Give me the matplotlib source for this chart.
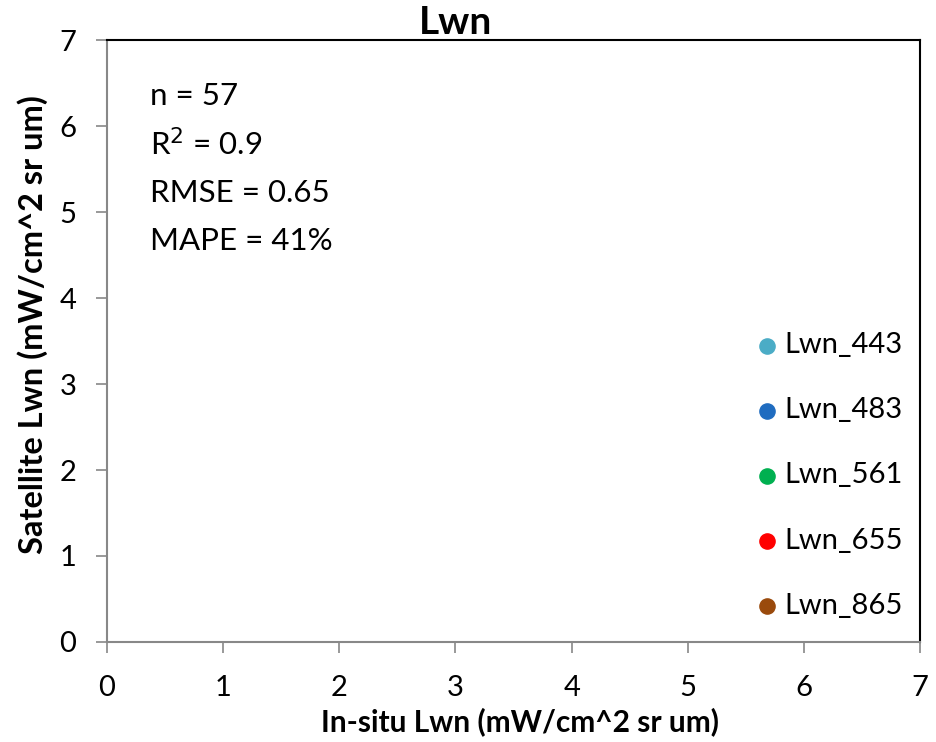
import matplotlib
matplotlib.use("Agg")
import matplotlib.pyplot as plt

plt.rcParams['font.family'] = ['Lato', 'DejaVu Sans']

# Data (the reference chart shows no plotted points)
bands = ["Lwn_443", "Lwn_483", "Lwn_561", "Lwn_655", "Lwn_865"]
colors = ["#4BACC6", "#1F6CC0", "#00B050", "#FF0000", "#9A4A0C"]
insitu_443, sat_443 = [], []
insitu_483, sat_483 = [], []
insitu_561, sat_561 = [], []
insitu_655, sat_655 = [], []
insitu_865, sat_865 = [], []
series = [(insitu_443, sat_443), (insitu_483, sat_483), (insitu_561, sat_561),
          (insitu_655, sat_655), (insitu_865, sat_865)]
stats_lines = ["n = 57", "R$^2$ = 0.9", "RMSE = 0.65", "MAPE = 41%"]
ticks = [0, 1, 2, 3, 4, 5, 6, 7]

fig = plt.figure(figsize=(9.36, 7.42), dpi=100)
ax = fig.add_axes([0.1143, 0.1348, 0.8687, 0.8112])

for (x, y), c, lab in zip(series, colors, bands):
    ax.scatter(x, y, color=c, s=120, label=lab)

ax.set_xlim(0, 7)
ax.set_ylim(0, 7)
ax.set_xticks(ticks)
ax.set_yticks(ticks)
ax.tick_params(axis='both', labelsize=21, length=8, width=1.2, color='#888888')
ax.tick_params(axis='x', pad=16)
ax.tick_params(axis='y', pad=14)

for s in ['left', 'bottom']:
    ax.spines[s].set_color('#888888')
    ax.spines[s].set_linewidth(1.5)
for s in ['top', 'right']:
    ax.spines[s].set_color('black')
    ax.spines[s].set_linewidth(1.5)

fig.text(520 / 936, 1 - 722 / 742, "In-situ Lwn (mW/cm^2 sr um)", fontsize=21.5,
         fontweight='bold', ha='center', va='center')
fig.text(33 / 936, 1 - 325 / 742, "Satellite Lwn (mW/cm^2 sr um)", fontsize=23.5,
         fontweight='bold', ha='center', va='center', rotation=90)
fig.text(455 / 936, 1 - 23 / 742, "Lwn", fontsize=28, fontweight='bold',
         ha='center', va='center')

for i, t in enumerate(stats_lines):
    ax.text(150 / 936, (742 - 96 - i * 48.5) / 742, t, transform=fig.transFigure,
            fontsize=22.5, va='center', ha='left')

leg = ax.legend(loc='center left', bbox_to_anchor=(0.79, 0.2766), frameon=False,
                fontsize=21, labelspacing=1.34, handletextpad=0.0,
                handlelength=1.2, borderaxespad=0, borderpad=0)

fig.savefig("out.png", dpi=100)
